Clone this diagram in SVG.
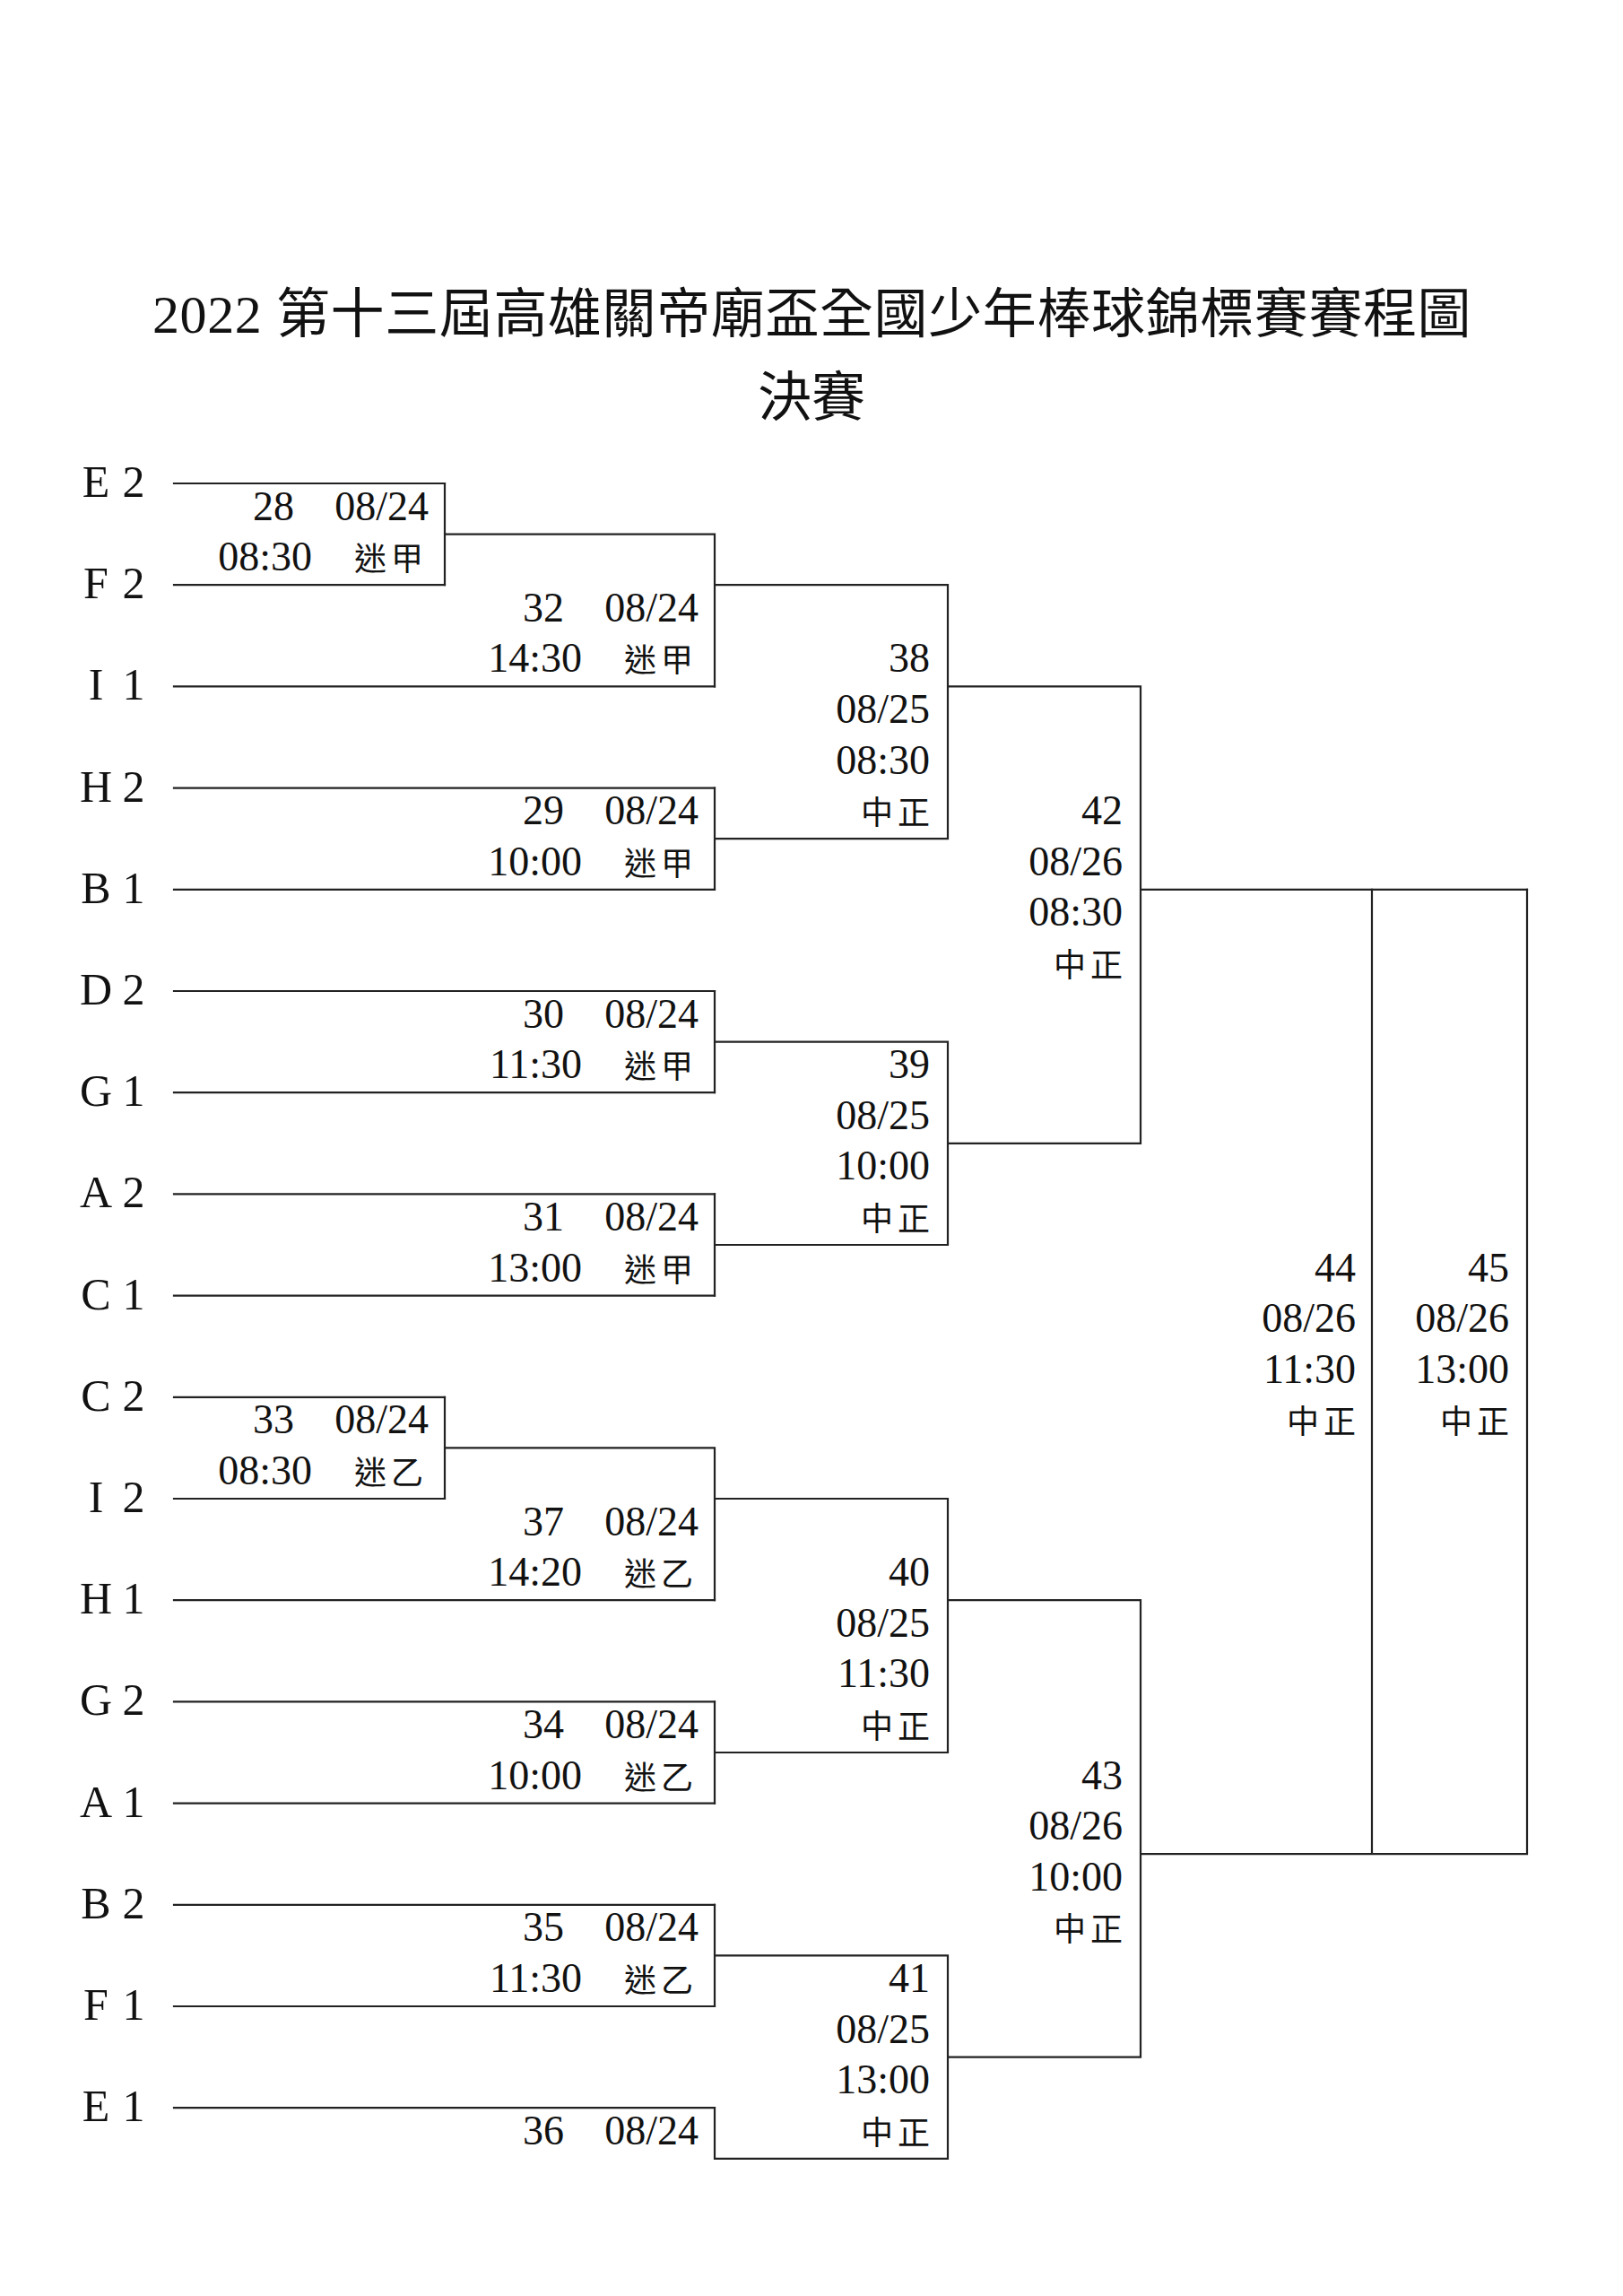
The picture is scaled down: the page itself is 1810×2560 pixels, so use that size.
<svg xmlns="http://www.w3.org/2000/svg" width="1810" height="2560" viewBox="0 0 1810 2560">
<style>
.bg{fill:#fff}
.ln{fill:none;stroke:#222;stroke-width:2.2;stroke-linecap:square}
.t{font-family:"Liberation Serif","Noto Sans CJK TC",serif;font-size:46px;fill:#111;text-anchor:end}
.v{font-family:"Noto Sans CJK TC",sans-serif;font-size:36px;fill:#111;letter-spacing:5px}
.tm{font-family:"Liberation Serif",serif;font-size:50px;fill:#111;text-anchor:middle}
.ti{font-family:"Liberation Serif","Noto Sans CJK TC",serif;font-size:60px;fill:#111;letter-spacing:0.6px}
.st{font-family:"Noto Sans CJK TC",sans-serif;font-size:60px;fill:#111;text-anchor:middle}
</style>
<rect class="bg" x="0" y="0" width="1810" height="2560"/>
<g id="title">
<text class="ti" x="170" y="371">2022 第十三屆高雄關帝廟盃全國少年棒球錦標賽賽程圖</text>
<text class="st" x="905" y="464">決賽</text>
</g>
<g id="connectors">
<path class="ln" d="M194 539H496M194 652.2H496M194 765.4H797M194 878.6H797M194 991.8H797M194 1105H797M194 1218.2H797M194 1331.4H797M194 1444.6H797M194 1557.8H496M194 1671H496M194 1784.2H797M194 1897.4H797M194 2010.6H797M194 2123.8H797M194 2237H797M194 2350.2H797"/>
<path class="ln" d="M496 539V652.2M496 595.6H797M797 595.6V765.4M797 652.2H1057M797 878.6V991.8M797 935.2H1057M1057 652.2V935.2M1057 765.4H1272M797 1105V1218.2M797 1161.6H1057M797 1331.4V1444.6M797 1388H1057M1057 1161.6V1388M1057 1274.8H1272M1272 765.4V1274.8M1272 991.8H1703"/>
<path class="ln" d="M496 1557.8V1671M496 1614.4H797M797 1614.4V1784.2M797 1671H1057M797 1897.4V2010.6M797 1954H1057M1057 1671V1954M1057 1784.2H1272M797 2123.8V2237M797 2180.4H1057M797 2350.2V2406.8H1057M1057 2180.4V2406.8M1057 2293.6H1272M1272 1784.2V2293.6M1272 2067.2H1703M1530 991.8V2067.2M1703 991.8V2067.2"/>
</g>
<g id="teams">
<g id="team-E2"><text class="tm" y="554"><tspan x="107">E</tspan><tspan x="149">2</tspan></text></g>
<g id="team-F2"><text class="tm" y="667.2"><tspan x="107">F</tspan><tspan x="149">2</tspan></text></g>
<g id="team-I1"><text class="tm" y="780.4"><tspan x="107">I</tspan><tspan x="149">1</tspan></text></g>
<g id="team-H2"><text class="tm" y="893.6"><tspan x="107">H</tspan><tspan x="149">2</tspan></text></g>
<g id="team-B1"><text class="tm" y="1006.8"><tspan x="107">B</tspan><tspan x="149">1</tspan></text></g>
<g id="team-D2"><text class="tm" y="1120"><tspan x="107">D</tspan><tspan x="149">2</tspan></text></g>
<g id="team-G1"><text class="tm" y="1233.2"><tspan x="107">G</tspan><tspan x="149">1</tspan></text></g>
<g id="team-A2"><text class="tm" y="1346.4"><tspan x="107">A</tspan><tspan x="149">2</tspan></text></g>
<g id="team-C1"><text class="tm" y="1459.6"><tspan x="107">C</tspan><tspan x="149">1</tspan></text></g>
<g id="team-C2"><text class="tm" y="1572.8"><tspan x="107">C</tspan><tspan x="149">2</tspan></text></g>
<g id="team-I2"><text class="tm" y="1686"><tspan x="107">I</tspan><tspan x="149">2</tspan></text></g>
<g id="team-H1"><text class="tm" y="1799.2"><tspan x="107">H</tspan><tspan x="149">1</tspan></text></g>
<g id="team-G2"><text class="tm" y="1912.4"><tspan x="107">G</tspan><tspan x="149">2</tspan></text></g>
<g id="team-A1"><text class="tm" y="2025.6"><tspan x="107">A</tspan><tspan x="149">1</tspan></text></g>
<g id="team-B2"><text class="tm" y="2138.8"><tspan x="107">B</tspan><tspan x="149">2</tspan></text></g>
<g id="team-F1"><text class="tm" y="2252"><tspan x="107">F</tspan><tspan x="149">1</tspan></text></g>
<g id="team-E1"><text class="tm" y="2365.2"><tspan x="107">E</tspan><tspan x="149">1</tspan></text></g>
</g>
<g id="matches">
<g id="m28"><text class="t" y="579.6"><tspan x="328">28</tspan><tspan x="478">08/24</tspan></text><text class="t" x="348" y="636.2">08:30</text><text class="v" x="395" y="636.2">迷甲</text></g>
<g id="m32"><text class="t" y="692.8"><tspan x="629">32</tspan><tspan x="779">08/24</tspan></text><text class="t" x="649" y="749.4">14:30</text><text class="v" x="696" y="749.4">迷甲</text></g>
<g id="m29"><text class="t" y="919.2"><tspan x="629">29</tspan><tspan x="779">08/24</tspan></text><text class="t" x="649" y="975.8">10:00</text><text class="v" x="696" y="975.8">迷甲</text></g>
<g id="m30"><text class="t" y="1145.6"><tspan x="629">30</tspan><tspan x="779">08/24</tspan></text><text class="t" x="649" y="1202.2">11:30</text><text class="v" x="696" y="1202.2">迷甲</text></g>
<g id="m31"><text class="t" y="1372"><tspan x="629">31</tspan><tspan x="779">08/24</tspan></text><text class="t" x="649" y="1428.6">13:00</text><text class="v" x="696" y="1428.6">迷甲</text></g>
<g id="m33"><text class="t" y="1598.4"><tspan x="328">33</tspan><tspan x="478">08/24</tspan></text><text class="t" x="348" y="1655">08:30</text><text class="v" x="395" y="1655">迷乙</text></g>
<g id="m37"><text class="t" y="1711.6"><tspan x="629">37</tspan><tspan x="779">08/24</tspan></text><text class="t" x="649" y="1768.2">14:20</text><text class="v" x="696" y="1768.2">迷乙</text></g>
<g id="m34"><text class="t" y="1938"><tspan x="629">34</tspan><tspan x="779">08/24</tspan></text><text class="t" x="649" y="1994.6">10:00</text><text class="v" x="696" y="1994.6">迷乙</text></g>
<g id="m35"><text class="t" y="2164.4"><tspan x="629">35</tspan><tspan x="779">08/24</tspan></text><text class="t" x="649" y="2221">11:30</text><text class="v" x="696" y="2221">迷乙</text></g>
<g id="m36"><text class="t" y="2390.8"><tspan x="629">36</tspan><tspan x="779">08/24</tspan></text></g>
<g id="m38"><text class="t" x="1037" y="749.4">38</text><text class="t" x="1037" y="806">08/25</text><text class="t" x="1037" y="862.6">08:30</text><text class="v" x="960" y="919.2">中正</text></g>
<g id="m39"><text class="t" x="1037" y="1202.2">39</text><text class="t" x="1037" y="1258.8">08/25</text><text class="t" x="1037" y="1315.4">10:00</text><text class="v" x="960" y="1372">中正</text></g>
<g id="m40"><text class="t" x="1037" y="1768.2">40</text><text class="t" x="1037" y="1824.8">08/25</text><text class="t" x="1037" y="1881.4">11:30</text><text class="v" x="960" y="1938">中正</text></g>
<g id="m41"><text class="t" x="1037" y="2221">41</text><text class="t" x="1037" y="2277.6">08/25</text><text class="t" x="1037" y="2334.2">13:00</text><text class="v" x="960" y="2390.8">中正</text></g>
<g id="m42"><text class="t" x="1252" y="919.2">42</text><text class="t" x="1252" y="975.8">08/26</text><text class="t" x="1252" y="1032.4">08:30</text><text class="v" x="1175" y="1089">中正</text></g>
<g id="m43"><text class="t" x="1252" y="1994.6">43</text><text class="t" x="1252" y="2051.2">08/26</text><text class="t" x="1252" y="2107.8">10:00</text><text class="v" x="1175" y="2164.4">中正</text></g>
<g id="m44"><text class="t" x="1512" y="1428.6">44</text><text class="t" x="1512" y="1485.2">08/26</text><text class="t" x="1512" y="1541.8">11:30</text><text class="v" x="1435" y="1598.4">中正</text></g>
<g id="m45"><text class="t" x="1683" y="1428.6">45</text><text class="t" x="1683" y="1485.2">08/26</text><text class="t" x="1683" y="1541.8">13:00</text><text class="v" x="1606" y="1598.4">中正</text></g>
</g>
</svg>
